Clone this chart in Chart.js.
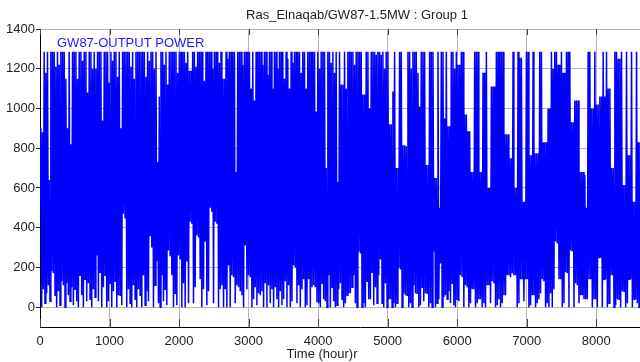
<!DOCTYPE html>
<html><head><meta charset="utf-8">
<script src="https://cdn.jsdelivr.net/npm/chart.js@4.4.1/dist/chart.umd.min.js"></script>
<style>
html,body{margin:0;padding:0;overflow:hidden;background:#fff;width:640px;height:362px;}
#wrap{position:relative;width:700px;height:362px;}
canvas{display:block;}
</style></head><body>
<div id="wrap"><canvas id="c" width="700" height="362"></canvas></div>
<script>
const chartTitle = "Ras_Elnaqab/GW87-1.5MW : Group 1";
const seriesName = "GW87-OUTPUT POWER";
const xAxisTitle = "Time (hour)r";
const hourStep = 12;
const xTickValues = [0,1000,2000,3000,4000,5000,6000,7000,8000];
const yTickValues = [0,200,400,600,800,1000,1200,1400];
const outputPowerKW = [
540,900,0,880,90,1285,20,1180,70,1285,110,640,30,1285,180,1285,170,1285,60,1210,
0,1285,80,1220,10,1285,130,1285,110,1285,0,1150,120,900,60,1285,30,820,100,1285,
10,1285,90,1285,30,1150,0,1285,160,1285,60,1240,0,1285,140,1285,30,1080,120,1285,
40,1285,0,1200,90,1285,50,1200,260,1285,30,1285,175,1285,0,940,100,1285,160,1285,
0,1285,30,1130,120,1285,0,1240,80,1285,130,1285,0,1160,60,1285,60,900,10,1285,
470,1285,450,1285,0,1285,90,1285,20,1210,0,1285,110,1150,40,1285,0,1285,90,1285,
60,1285,0,1285,160,1285,10,1160,80,1285,30,1240,360,1285,300,1285,0,1200,110,1285,
230,730,20,1060,0,1285,160,1285,30,1220,90,1285,10,1120,285,1285,260,1285,160,1285,
0,1285,70,1285,10,1180,260,1285,240,1285,0,1285,120,1285,0,1230,230,1285,20,1190,
430,1190,420,1285,20,1285,100,1210,360,1285,350,1285,140,1285,0,1285,90,1140,330,1285,
10,1285,80,1285,500,1285,480,1200,20,1285,430,1285,420,1285,0,1230,90,1285,110,1150,
0,1150,90,1285,0,1250,210,1285,0,1285,160,1285,150,1285,20,680,110,1285,100,1285,
80,1285,60,1220,0,1285,310,1285,90,1285,160,1285,150,1100,0,1285,40,1040,100,1285,
10,1285,70,1285,60,1285,80,1220,0,1285,120,1285,0,1170,110,1285,20,1285,90,1100,
0,1285,100,1285,40,1200,0,1285,80,1285,10,1285,40,1150,130,1285,0,1250,110,1100,
0,1285,30,1230,210,1285,200,1285,20,1285,110,1285,0,1180,90,1285,140,1285,0,1100,
10,1285,140,1285,0,1285,100,1285,110,1285,100,985,25,1285,20,1200,0,1285,120,1285,
40,1285,30,700,0,1285,160,1285,0,1230,100,1285,30,1180,0,1285,10,630,90,1285,
120,1120,40,1120,0,1285,20,1100,60,1285,70,1285,70,1285,100,1285,160,1220,20,1285,
0,1285,280,1285,270,1285,0,1070,20,1070,0,1285,130,1285,40,1000,40,1285,175,1285,
10,1285,100,1270,20,1285,160,1285,240,1270,20,1285,0,1200,120,1285,0,1285,40,920,
40,920,0,1085,20,1285,0,700,20,700,200,1285,190,1285,0,815,70,815,60,810,
60,1285,0,1285,20,1200,0,1285,110,1285,70,1285,70,1180,0,1010,10,1285,100,1285,
30,1285,70,715,70,715,0,1285,20,1285,0,1285,280,650,0,650,20,1285,40,500,
220,1285,0,1285,50,950,60,1285,40,910,80,910,20,1285,120,1285,10,1200,0,1285,
40,1220,30,1220,160,1285,150,1285,0,970,110,970,100,885,0,885,20,680,90,680,
90,1285,0,1285,20,1285,40,680,40,680,0,1180,20,1180,0,1285,110,600,110,600,
20,1110,130,1110,120,1110,0,1285,10,1285,40,1285,0,1285,20,1285,60,870,60,870,
160,870,160,750,150,750,170,1285,160,600,160,600,0,1285,20,1255,140,1255,140,530,
30,530,140,1285,140,1285,0,765,10,765,60,1285,60,775,0,775,20,775,40,1285,
70,1285,140,830,130,830,0,830,20,1000,0,1000,70,1285,0,1200,90,1285,330,1285,
320,1220,140,1220,140,1285,0,1180,20,1180,175,1285,170,1285,0,1285,285,930,280,930,
0,1040,120,1040,110,1040,20,680,60,680,60,680,40,665,40,500,40,1285,140,1285,
140,1000,0,1000,40,1285,40,1020,0,1020,250,1060,250,1060,0,1285,140,1060,140,1285,
0,1100,20,1100,160,700,160,700,0,1285,10,1285,40,1250,40,1250,0,1285,80,615,
80,615,0,1285,20,765,140,765,140,1285,0,530,40,530,40,1285,20,830,0,830
];

const points = outputPowerKW.map((v, i) => ({ x: i * hourStep, y: v }));
const FONT = '"Liberation Sans", Arial, sans-serif';

const overlay = {
  id: 'overlay',
  afterDraw(chart) {
    const ctx = chart.ctx, xs = chart.scales.x, ca = chart.chartArea;
    ctx.save();
    ctx.strokeStyle = '#444'; ctx.lineWidth = 1;
    xTickValues.forEach(v => {
      const px = Math.round(xs.getPixelForValue(v)) + 0.5;
      ctx.beginPath();
      ctx.moveTo(px, ca.bottom); ctx.lineTo(px, ca.bottom - 8);
      ctx.moveTo(px, ca.top); ctx.lineTo(px, ca.top + 6);
      ctx.stroke();
    });
    ctx.font = '13px ' + FONT;
    ctx.textBaseline = 'middle';
    ctx.textAlign = 'center';
    ctx.fillStyle = '#222';
    ctx.fillText(chartTitle, 357, 15);
    ctx.fillText(xAxisTitle, 322, 354);
    ctx.textAlign = 'left';
    ctx.fillStyle = '#1a1aff';
    ctx.fillText(seriesName, 57, 43);
    ctx.restore();
  }
};

new Chart(document.getElementById('c'), {
  type: 'line',
  data: { datasets: [{
    label: seriesName,
    data: points,
    borderColor: '#0000ff',
    borderWidth: 1.5,
    pointRadius: 0,
    tension: 0,
    fill: false
  }]},
  options: {
    responsive: false,
    animation: false,
    devicePixelRatio: 1,
    layout: { padding: { top: 29, right: 20, left: 0, bottom: 0 } },
    plugins: { legend: { display: false }, title: { display: false }, tooltip: { enabled: false } },
    scales: {
      x: {
        type: 'linear', min: 0, max: 9205,
        afterBuildTicks: s => { s.ticks = xTickValues.map(v => ({ value: v })); },
        afterFit: s => { s.height = 35; },
        grid: { color: '#b4b4b4', lineWidth: 1, drawTicks: false },
        border: { display: true, color: '#000', width: 1 },
        ticks: { font: { size: 13, family: FONT }, color: '#222', padding: 7, maxRotation: 0, autoSkip: false,
                 callback: v => String(v) }
      },
      y: {
        min: -100, max: 1400,
        afterBuildTicks: s => { s.ticks = yTickValues.map(v => ({ value: v })); },
        afterFit: s => { s.width = 40; },
        grid: { color: '#b4b4b4', lineWidth: 1, tickLength: 4, tickColor: '#222' },
        border: { display: true, color: '#000', width: 1 },
        ticks: { font: { size: 13, family: FONT }, color: '#222', padding: 1,
                 callback: v => String(v) }
      }
    }
  },
  plugins: [overlay]
});
</script>
</body></html>
